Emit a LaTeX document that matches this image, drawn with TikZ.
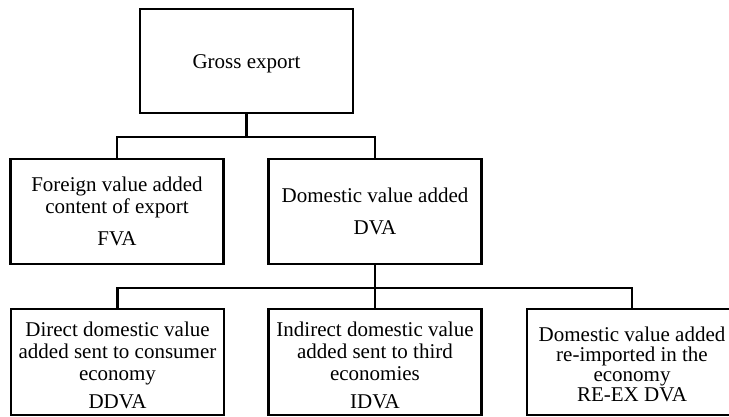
\documentclass[tikz,border=0pt]{standalone}
\usepackage{fontspec}
\setmainfont{Liberation Serif}
\newcommand{\topgap}[1]{\rule{0pt}{#1}}
\begin{document}
\begin{tikzpicture}[x=1pt,y=-1pt,
  box/.style={draw=black, line width=2.6pt, fill=white, minimum width=213pt,
    inner sep=0pt, align=center, font=\fontsize{21}{22}\selectfont},
  link/.style={draw=black, line width=2.6pt}]
\clip (0,0) rectangle (729,416);
\fill[white] (0,0) rectangle (729,416);
% boxes
\node[box, minimum height=104pt] (gross) at (246.5,61) {\topgap{19.5pt}Gross export};
\node[box, minimum height=105pt] (fva) at (117,211.5)
  {Foreign value added\\content of export\\[10pt]FVA};
\node[box, minimum height=105pt] (dva) at (375,211.5)
  {Domestic value added\\[10pt]DVA};
\node[box, minimum height=106pt] (ddva) at (117.5,362)
  {\topgap{22pt}Direct domestic value\\added sent to consumer\\economy\\[6pt]DDVA};
\node[box, minimum height=106pt] (idva) at (375,362)
  {\topgap{22pt}Indirect domestic value\\added sent to third\\economies\\[6pt]IDVA};
\node[box, minimum width=210pt, minimum height=106pt,
  font=\fontsize{21}{20}\selectfont] (reex) at (632,362)
  {\topgap{18.5pt}Domestic value added\\re-imported in the\\economy\\RE-EX DVA};
% junctions
\coordinate (j1) at (246.5,137);
\coordinate (j2) at (375,288);
% connectors
\draw[link] (gross.south) -- (j1);
\draw[link] (fva.north) |- (j1) -| (dva.north);
\draw[link] (dva.south) -- (j2);
\draw[link] (ddva.north) |- (j2) -| (reex.north);
\draw[link] (j2) -- (idva.north);
\end{tikzpicture}
\end{document}
